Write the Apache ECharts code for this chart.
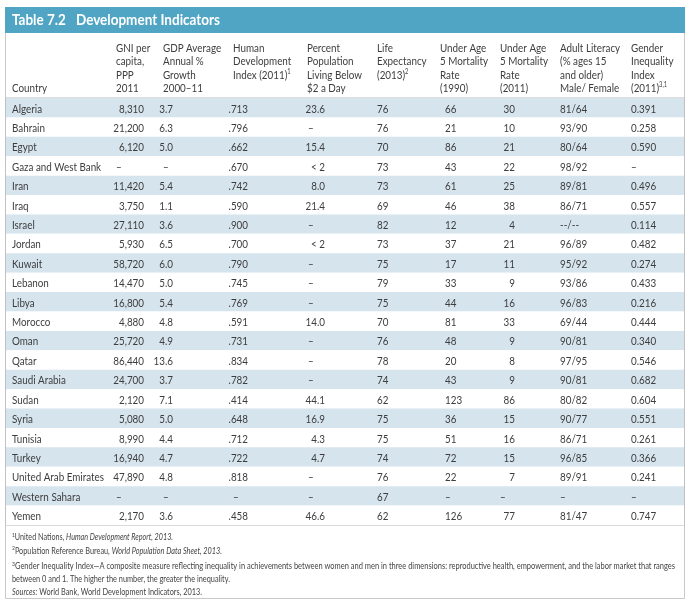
<!DOCTYPE html>
<html>
<head>
<meta charset="utf-8">
<script src="https://cdn.jsdelivr.net/npm/echarts@6/dist/echarts.min.js"></script>
<style>
  html, body { margin: 0; padding: 0; background: #fff; }
  #main { width: 690px; height: 600px; }
</style>
</head>
<body>
<div id="main"></div>
<script>
// table data, one array per column
const countries = ['Algeria', 'Bahrain', 'Egypt', 'Gaza and West Bank', 'Iran', 'Iraq', 'Israel', 'Jordan',
  'Kuwait', 'Lebanon', 'Libya', 'Morocco', 'Oman', 'Qatar', 'Saudi Arabia', 'Sudan', 'Syria', 'Tunisia',
  'Turkey', 'United Arab Emirates', 'Western Sahara', 'Yemen']
const gni = [8310, 21200, 6120, null, 11420, 3750, 27110, 5930, 58720, 14470, 16800, 4880, 25720, 86440,
  24700, 2120, 5080, 8990, 16940, 47890, null, 2170]
const gdpGrowth = [3.7, 6.3, 5.0, null, 5.4, 1.1, 3.6, 6.5, 6.0, 5.0, 5.4, 4.8, 4.9, 13.6, 3.7, 7.1, 5.0,
  4.4, 4.7, 4.8, null, 3.6]
const hdi = [0.713, 0.796, 0.662, 0.670, 0.742, 0.590, 0.900, 0.700, 0.790, 0.745, 0.769, 0.591, 0.731,
  0.834, 0.782, 0.414, 0.648, 0.712, 0.722, 0.818, null, 0.458]
const below2 = [23.6, null, 15.4, '< 2', 8.0, 21.4, null, '< 2', null, null, null, 14.0, null, null, null,
  44.1, 16.9, 4.3, 4.7, null, null, 46.6]
const lifeExp = [76, 76, 70, 73, 73, 69, 82, 73, 75, 79, 75, 70, 76, 78, 74, 62, 75, 75, 74, 76, 67, 62]
const u5_1990 = [66, 21, 86, 43, 61, 46, 12, 37, 17, 33, 44, 81, 48, 20, 43, 123, 36, 51, 72, 22, null, 126]
const u5_2011 = [30, 10, 21, 22, 25, 38, 4, 21, 11, 9, 16, 33, 9, 8, 9, 86, 15, 16, 15, 7, null, 77]
const literacy = ['81/64', '93/90', '80/64', '98/92', '89/81', '86/71', '--/--', '96/89', '95/92', '93/86',
  '96/83', '69/44', '90/81', '97/95', '90/81', '80/82', '90/77', '86/71', '96/85', '89/91', null, '81/47']
const gii = [0.391, 0.258, 0.590, null, 0.496, 0.557, 0.114, 0.482, 0.274, 0.433, 0.216, 0.444, 0.340,
  0.546, 0.682, 0.604, 0.551, 0.261, 0.366, 0.241, null, 0.747]

const FONT = 'Lato, "Open Sans", sans-serif'
const TXT = '#3d3d3d'
const SQUEEZE = 0.82 // the original face is narrower than Lato

const chart = echarts.init(document.getElementById('main'))

// formatters
const thousands = v => v.toLocaleString('en-US')
const fixed1 = v => (typeof v === 'number' ? v.toFixed(1) : v)
const noLead = v => v.toFixed(3).replace(/^0/, '')
const fixed3 = v => v.toFixed(3)
const plain = v => String(v)

// one custom series per column, text placed through the axes
function column(vals, fmt, x, align, dashX) {
  const texts = vals.map(v => (v == null ? '–' : fmt(v)))
  const aligns = vals.map(v => (v == null ? 'left' : align))
  return {
    type: 'custom',
    silent: true,
    encode: { x: 0, y: 1 },
    data: countries.map((c, i) => [vals[i] == null ? dashX : x, c]),
    renderItem: (params, api) => {
      const p = api.coord([api.value(0), api.value(1)])
      return {
        type: 'text',
        x: p[0],
        y: p[1] + 1,
        scaleX: SQUEEZE,
        style: {
          text: texts[params.dataIndex],
          align: aligns[params.dataIndex],
          verticalAlign: 'middle',
          fill: TXT,
          font: '12px ' + FONT
        }
      }
    }
  }
}

// header text, line by line
const headers = [
  { x: 12, lines: ['', '', '', 'Country'] },
  { x: 116, lines: ['GNI per', 'capita,', 'PPP', '2011'] },
  { x: 163, lines: ['GDP Average', 'Annual %', 'Growth', '2000–11'] },
  { x: 233, lines: ['Human', 'Development', 'Index (2011){s|1}'] },
  { x: 307, lines: ['Percent', 'Population', 'Living Below', '$2 a Day'] },
  { x: 377, lines: ['Life', 'Expectancy', '(2013){s|2}'] },
  { x: 440, lines: ['Under Age', '5 Mortality', 'Rate', '(1990)'] },
  { x: 500, lines: ['Under Age', '5 Mortality', 'Rate', '(2011)'] },
  { x: 560, lines: ['Adult Literacy', '(% ages 15', 'and older)', 'Male/ Female'] },
  { x: 631, lines: ['Gender', 'Inequality', 'Index', '(2011){s|3,1}'] }
]
const lineY = [48, 61.5, 75, 88.5]
const sup = { s: { fontSize: 7, verticalAlign: 'top', fontFamily: FONT, fill: TXT } }

const graphics = [
  { type: 'rect', shape: { x: 5.5, y: 7.5, width: 679, height: 591 }, style: { fill: '#fff', stroke: '#c9c9c9', lineWidth: 1 }, z: -10 },
  { type: 'rect', shape: { x: 5, y: 7, width: 680, height: 26 }, style: { fill: '#4fa5c3' } },
  { type: 'text', x: 12, y: 20.5, scaleX: 0.9, style: { text: 'Table 7.2', fill: '#fff', font: 'bold 15px ' + FONT, verticalAlign: 'middle' } },
  { type: 'text', x: 76, y: 20.5, scaleX: 0.9, style: { text: 'Development Indicators', fill: '#fff', font: 'bold 15px ' + FONT, verticalAlign: 'middle' } }
]
headers.forEach(h => {
  h.lines.forEach((t, i) => {
    if (!t) return
    graphics.push({
      type: 'text', x: h.x, y: lineY[i], scaleX: SQUEEZE,
      style: { text: t, rich: sup, fill: TXT, font: '12px ' + FONT, verticalAlign: 'middle', lineHeight: 14 }
    })
  })
})

// footnotes, each squeezed to the width it takes in the print
const noteRich = {
  s: { fontSize: 6.5, verticalAlign: 'top', fontFamily: FONT, fill: '#444' },
  i: { fontStyle: 'italic', fontSize: 9.5, fontFamily: FONT, fill: '#444' }
}
const noteFont = { s: '6.5px ' + FONT, i: 'italic 9.5px ' + FONT, n: '9.5px ' + FONT }
const notes = [
  { y: 537, w: 161, text: '{s|1}United Nations, {i|Human Development Report, 2013.}' },
  { y: 550.5, w: 210, text: '{s|2}Population Reference Bureau, {i|World Population Data Sheet, 2013.}' },
  { y: 566, w: 663, text: '{s|3}Gender Inequality Index—A composite measure reflecting inequality in achievements between women and men in three dimensions: reproductive health, empowerment, and the labor market that ranges' },
  { y: 579, w: 218, text: 'between 0 and 1. The higher the number, the greater the inequality.' },
  { y: 592, w: 190, text: '{i|Sources:} World Bank, World Development Indicators, 2013.' }
]
const ctx = document.createElement('canvas').getContext('2d')
function measure(text) {
  let w = 0
  text.split(/(\{\w\|[^}]*\})/).forEach(part => {
    if (!part) return
    const m = part.match(/^\{(\w)\|([^}]*)\}$/)
    ctx.font = m ? noteFont[m[1]] : noteFont.n
    w += ctx.measureText(m ? m[2] : part).width
  })
  return w
}
notes.forEach(n => {
  const k = Math.min(1, n.w / measure(n.text))
  graphics.push({
    type: 'text', x: 12, y: n.y, scaleX: k,
    style: { text: n.text, rich: noteRich, fill: '#444', font: '9.5px ' + FONT, verticalAlign: 'middle', lineHeight: 12 }
  })
})

const option = {
  animation: false,
  backgroundColor: '#fff',
  grid: { left: 6, right: 6, top: 98, bottom: 75, show: true, borderColor: '#b9b9b9', borderWidth: 1 },
  xAxis: {
    type: 'value', min: 6, max: 684,
    axisLine: { show: false }, axisTick: { show: false }, axisLabel: { show: false }, splitLine: { show: false }
  },
  yAxis: {
    type: 'category', inverse: true, data: countries,
    axisLine: { show: false }, axisTick: { show: false }, axisLabel: { show: false },
    splitLine: { show: false },
    splitArea: { show: true, areaStyle: { color: ['#d6e4ee', '#ffffff'] } }
  },
  graphic: graphics,
  series: [
    column(countries, plain, 12, 'left', 12),
    column(gni, thousands, 144, 'right', 116),
    column(gdpGrowth, fixed1, 173, 'right', 163),
    column(hdi, noLead, 248, 'right', 233),
    column(below2, fixed1, 325, 'right', 308),
    column(lifeExp, plain, 377, 'left', 377),
    column(u5_1990, plain, 445, 'left', 445),
    column(u5_2011, plain, 515, 'right', 500),
    column(literacy, plain, 560, 'left', 560),
    column(gii, fixed3, 631, 'left', 631)
  ]
}
chart.setOption(option)
</script>
</body>
</html>
